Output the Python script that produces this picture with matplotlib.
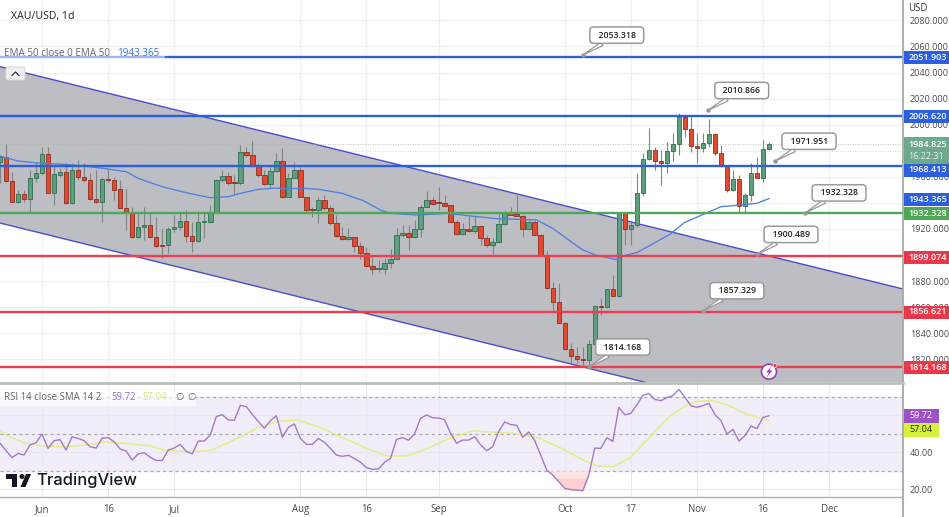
import matplotlib
matplotlib.use("Agg")
import matplotlib.pyplot as plt
from matplotlib.patches import Rectangle, Polygon, Circle, FancyBboxPatch

plt.rcParams['font.family'] = ['Open Sans', 'DejaVu Sans']

# ---------- data ----------
opens = [1971,1975.4,1957,1940.4,1946.5,1942.7,1959.1,1962.6,1977.5,1947.8,1961.6,1963.4,1939.6,1965.5,1960.1,1957.3,1943.2,1940.9,1958,1957.3,
 1950.4,1936,1932.2,1913.6,1921.2,1922.8,1913.6,1907.7,1907.7,1919.7,1921.2,1925.8,1914.9,1910.8,1925.1,1925.6,1932,1957.3,1960.3,1955.5,
 1955.3,1978.7,1977,1969.3,1961.6,1954.5,1964.4,1971.8,1944.8,1959.1,1965.2,1944.3,1934.7,1934.5,
 1942.5,1936.3,1924.8,1914.9,1912.1,1913.6,1907.2,1901.3,1891.9,1889.1,1889.3,1894.2,1897.2,1915.1,1916.7,1913.9,
 1919.7,1937.1,1942.2,1939.7,1939.7,1938.1,1925.6,1915.9,1919.7,1918.5,1922,1913.3,1908,1910.3,1923.6,1933.3,1931.2,1930.2,1919.7,1925.1,
 1915.6,1900,1874.5,1864.3,1848.2,1827.7,1822.6,1820.6,1819.5,1831.8,1860.9,1860.2,1873.7,1868.6,
 1932,1919.8,1923.1,1947.4,1973.7,1980.6,1972.4,1970.9,1980.1,1984.9,2006.2,1996.4,1983.9,1981.9,1985.7,1992.9,1978,1969.1,1949.9,1958.1,1937.9,1945.8,1962.7,1959.4,1981.1]
highs = [1976.7,1985.1,1963.9,1949.9,1949.9,1965.2,1970.3,1983.1,1983.1,1969,1966.5,1970.3,1970.3,1972.9,1970.3,1962.6,1965.2,1958.8,1966,1960.1,
 1957.5,1951,1937.1,1933.3,1937.1,1932,1929.4,1920.5,1921.8,1930.7,1932,1934.5,1925.6,1934,1932,1938.4,1958,1965.2,1963.9,1961.4,
 1984.4,1983,1987.7,1970.3,1965.2,1967.8,1978,1981.8,1962.6,1971.6,1967.8,1944.8,1937,1944.8,
 1946,1938.4,1930.7,1921.8,1920.5,1914.1,1910.3,1906.4,1900,1896.2,1897.5,1904.4,1920.5,1923,1923,1926.9,
 1938.4,1949.1,1944.8,1952.4,1946,1938.4,1926.9,1924.3,1929.9,1929.9,1923,1915.4,1912.8,1932,1934,1937.1,1947.3,1930.7,1926.9,1926.9,
 1916.2,1903.4,1879.6,1878.8,1848.9,1832.3,1829.8,1829.8,1834.9,1861.7,1866.8,1873.7,1884.7,1932,
 1932.2,1925.6,1962.7,1978,1997.2,1983.1,1980.6,1987,1993.4,2009.2,2007.4,2007.4,1993.4,1993.4,2004.1,1993.4,1984.4,1969.1,1965.3,1961.4,1947.4,1970.4,1975.5,1988.3,1987]
lows = [1955,1956.3,1940.4,1939.6,1940.9,1933.3,1956.3,1961.4,1947.3,1938.4,1960.1,1939.1,1939.1,1957.5,1956.3,1942.2,1940.2,1925.6,1956.3,1942.2,
 1935.8,1919.2,1912.8,1912.8,1911.5,1912.8,1906.4,1897.5,1901.3,1917.9,1919.2,1910.3,1902.6,1910.3,1912.8,1924.3,1932,1956.3,1953.7,1946,
 1953.7,1975.4,1967.8,1960.1,1953.7,1951.1,1963.9,1943.5,1944.3,1958.8,1944.3,1932,1929.4,1924.3,
 1934.6,1923,1914.1,1911.6,1911.6,1902.6,1896.7,1891.1,1885.5,1887.3,1885.5,1889.8,1896.7,1914.1,1903.9,1912.8,
 1914.1,1936.6,1938.4,1934.6,1937.1,1924.3,1915.4,1915.4,1917.9,1916.7,1907.7,1906.4,1900.8,1909.5,1923,1930.5,1929.9,1914.1,1919.2,1915.1,
 1899.3,1873.7,1857.9,1847.7,1827.2,1817,1817,1814.4,1813.2,1831,1854,1859.2,1868.1,1868.1,
 1907.7,1907.7,1921.8,1945.3,1972.9,1965.3,1953.8,1962.7,1972.4,1976.8,1990.8,1979.3,1970.4,1979.3,1983.1,1976.8,1967.8,1948.6,1949.2,1932.5,1932.5,1941.7,1958.9,1956.3,1980.6]
closes = [1974.9,1957,1940.4,1946.5,1942.7,1959.1,1962.6,1977.5,1947.8,1961.9,1963.7,1939.6,1965.2,1960.1,1957.3,1943.2,1940.9,1958,1957.3,1950.1,
 1936.3,1932.2,1913.6,1921.2,1922.8,1913.6,1907.2,1907.2,1919.7,1921.2,1925.8,1914.9,1910.8,1925.1,1925.6,1932,1957.3,1960.3,1955.3,1955.3,
 1978.7,1977,1969.3,1961.6,1954.5,1964.4,1971.8,1944.8,1959.1,1965.2,1944.3,1934.5,1934.3,1942.2,
 1936.3,1924.8,1914.9,1912.1,1913.6,1907.2,1901.3,1891.9,1889.1,1889.3,1894.2,1897.2,1915.1,1916.7,1913.9,1919.7,
 1937.1,1942.2,1939.4,1939.6,1937.9,1925.6,1915.9,1919.7,1918.7,1922,1913.3,1908,1910.3,1923.6,1933.3,1931,1930.2,1920,1925.1,1915.6,
 1900,1874.5,1864.3,1848.2,1827.7,1822.6,1820.6,1819.5,1831.8,1860.9,1860.4,1873.7,1868.6,1932,
 1919.8,1923.1,1947.4,1973.7,1980.6,1972.4,1970.9,1980.1,1984.9,2006.2,1996.4,1983.9,1981.9,1985.7,1992.9,1978,1969.1,1949.9,1958.1,1937.9,1945.8,1962.7,1959.4,1981.1,1984.825]

ema_i = [0,3,7,10,14,18,21,23,27,31,35,38,40,43,46,48,50.5,53,57,60.5,63.3,65,69.4,74.5,78.3,82.7,86.5,89.3,92,94.3,97,99.3,102.4,103.9,106,108.3,111.6,113.9,117.2,120,123.3,126,128]
ema_v = [1976,1972.1,1970.3,1969.8,1968.3,1966,1963.9,1958.8,1952.4,1947.8,1944,1944.8,1947.3,1950.4,1951.4,1950.9,1951.2,1950.4,1947.3,1941.7,1934.6,1932,1930.7,1932,1930,1927.9,1927.4,1926.9,1920.5,1912.8,1903.9,1899.8,1896.7,1899.6,1901.9,1907.7,1916.2,1924.9,1931.5,1937.1,1938.4,1939.7,1943.365]

rsi = [44.9,40.9,37.1,39.4,38.5,44,45.2,49.9,42.1,46.3,46.8,41.2,48.4,47.5,46.3,43,42.3,47.7,47.9,45.7,41.8,40.7,35.8,39.1,39.8,37.3,35.6,35.6,41.2,42.3,44.3,40.5,39.1,46.1,46.1,49.4,59.3,60.3,57.5,57.3,65.4,64.7,60.5,56.6,53,57.1,59.8,48.1,53.5,55.3,47.5,44.3,44.3,47.5,45.4,42.1,38.5,37.8,38.4,36.6,34.6,31.7,30.8,31,34.6,36.7,47,47.9,46.6,49.9,58.4,60.2,58.7,58.5,57.6,50.2,44.9,46.6,46.6,48.4,44,
 40.9,43,51.2,56.4,55,54.6,48.1,51,46.3,38.5,30.4,27.7,24.1,20.5,19.8,19.6,19.2,27.7,42.3,42.1,47.9,45.9,64.3,60.3,61,65.6,70.8,71.7,68.6,67.9,69.5,70.6,74,69.7,65.2,64.3,65.2,66.5,60.3,57.1,49.9,52.4,46.1,49,54.2,52.8,58.9,59.72]
sma_i = [0,2.2,4.4,7.2,11.1,14.4,17.8,21.1,25,27.7,31.6,35,37.7,40,42.7,46,49.4,52.7,57.7,61,64.4,67.7,70.5,74.4,78.8,79.9,85.4,89.3,93.8,97.6,99.3,102,104.9,108.2,111.5,114.8,116.5,118.7,121,124.3,128]
sma_v = [51.2,47.5,44.8,43.4,43,44,45.7,44.8,43.4,41,40.3,40.9,44.8,48.4,53,56.6,57.5,54.2,47,42.1,38,38,41.2,47,51.7,51.3,50.3,48.1,41.6,34.9,32.8,32.2,37.1,48.4,59.6,66.5,67.7,67.9,65.6,60.7,57.04]

blue_levels = [2051.903, 2006.620, 1968.413]
green_levels = [1932.328]
red_levels = [1899.074, 1856.621, 1814.168]
ema_last = 1943.365
last_close = 1984.825
countdown = "16:22:31"

channel_upper_i = [0, 150.3]
channel_upper_p = [2044.5, 1874]
channel_lower_i = [0, 150.3]
channel_lower_p = [1924.6, 1753.6]

callout_i = [97, 117.8, 129, 134, 126, 117, 98]
callout_p = [2053.318, 2010.866, 1971.951, 1932.328, 1900.489, 1857.329, 1814.168]

date_pos = [7, 18, 29, 50, 61, 73, 94, 105, 116, 127, 138]
date_lab = ["Jun", "16", "Jul", "Aug", "16", "Sep", "Oct", "17", "Nov", "16", "Dec"]
price_grid = list(range(1820, 2100, 20))
price_hidden = [1980, 1940, 1900]
rsi_ticks = [20, 40]

# ---------- layout ----------
W, H = 949, 517
fig = plt.figure(figsize=(W/100, H/100), dpi=100, facecolor='white')
def frame(x0, y0, x1, y1):
    return [x0/W, 1-y1/H, (x1-x0)/W, (y1-y0)/H]
ax = fig.add_axes(frame(0, 0, 903, 382))
ar = fig.add_axes(frame(0, 382, 903, 497))
XMAX = 903/6.008
GRID = '#eef0f5'
TXT = '#4a4a4a'
FS = 6.45

for a in (ax, ar):
    a.set_xlim(0, XMAX)
    for s in a.spines.values():
        s.set_visible(False)
    a.set_axisbelow(True)
    a.grid(True, color=GRID, lw=0.9)
    a.yaxis.tick_right()
    a.tick_params(axis='both', length=0)

ax.set_ylim(1802.67, 2095.6)
ax.set_yticks(price_grid)
ax.set_yticklabels(["" if p in price_hidden else f"{p:.3f}" for p in price_grid], fontsize=FS, color=TXT)
ax.tick_params(axis='y', pad=5)
ax.set_xticks(date_pos)
ax.tick_params(axis='x', labelbottom=False)

# channel
ax.add_patch(Polygon(list(zip(channel_upper_i, channel_upper_p)) + list(zip(channel_lower_i[::-1], channel_lower_p[::-1])),
                     closed=True, fc='#bdbdc4', ec='none', zorder=1))
ax.plot(channel_upper_i, channel_upper_p, color='#4a4fc8', lw=1.0, zorder=2)
ax.plot(channel_lower_i, channel_lower_p, color='#4a4fc8', lw=1.0, zorder=2)

# last price dotted
ax.axhline(last_close, color='#a8b8a8', lw=0.6, ls=(0, (1, 2)), zorder=2)

# candles
UP, UPE, DN, DNE = '#5f9f80', '#2f6e4f', '#e2492f', '#8c2f20'
for i in range(len(closes)):
    o, h, l, c = opens[i], highs[i], lows[i], closes[i]
    up = c >= o
    ax.vlines(i, l, h, color='#7f8583', lw=0.8, zorder=3)
    bot, ht = min(o, c), max(abs(c-o), 0.9)
    ax.add_patch(Rectangle((i-0.37, bot), 0.74, ht, fc=UP if up else DN, ec=UPE if up else DNE, lw=0.6, zorder=4))

# EMA
ax.plot(ema_i, ema_v, color='#4f7fe0', lw=0.95, zorder=5)

# levels
for v in blue_levels:
    ax.axhline(v, color='#2a5fe0', lw=1.7, zorder=6)
for v in green_levels:
    ax.axhline(v, color='#4ea855', lw=1.7, zorder=6)
for v in red_levels:
    ax.axhline(v, color='#ee3b4e', lw=1.7, zorder=6)

# callouts
for i, v in zip(callout_i, callout_p):
    ax.annotate(f"  {v:.3f}  ", xy=(i, v), xytext=(34, 20), textcoords='offset pixels',
                ha='center', va='center', fontsize=6.3, fontweight='semibold', color='#222222', zorder=9,
                bbox=dict(boxstyle='round,pad=0.42', fc='white', ec='#9a9a9a', lw=1.1),
                arrowprops=dict(arrowstyle='wedge,tail_width=0.45,shrink_factor=0.5', fc='white', ec='#9a9a9a', lw=0.9, shrinkA=0, shrinkB=0))
    ax.plot([i], [v], 'o', ms=2.2, color='#9a9a9a', zorder=9)

# RSI panel
ar.set_ylim(15.84, 78)
ar.axhspan(30, 70, color='#f1edf9', zorder=0)
ar.set_axisbelow(False)
ar.grid(False)
ar.set_xticks(date_pos)
ar.set_xticklabels(date_lab, fontsize=6.9, color=TXT)
ar.tick_params(axis='x', pad=5)
for p in date_pos:
    ar.axvline(p, color='#e8e8ef', lw=0.8, zorder=1)
for v in [20, 40, 60]:
    ar.axhline(v, color='#e8e6f0', lw=0.8, zorder=1)
ar.set_yticks(rsi_ticks)
ar.set_yticklabels([f"{v:.2f}" for v in rsi_ticks], fontsize=FS, color=TXT)
ar.tick_params(axis='y', pad=5)
for v in [30, 50, 70]:
    ar.axhline(v, color='#a9a9b2', lw=0.9, ls=(0, (2.5, 2.5)), zorder=2)
xs = list(range(len(rsi)))
below = [r < 30 for r in rsi]
ar.fill_between(xs, rsi, 30, where=below, interpolate=True, color='#ffe2e2', lw=0, zorder=2)
ar.fill_between(xs, rsi, 26, where=[r < 26 for r in rsi], interpolate=True, color='#ffcfcf', lw=0, zorder=2)
ar.plot(sma_i, sma_v, color='#e3ee86', lw=1.1, zorder=3)
ar.plot(xs, rsi, color='#a678cc', lw=1.0, zorder=4)

# overlay in pixel space
ov = fig.add_axes([0, 0, 1, 1], facecolor='none')
ov.set_xlim(0, W); ov.set_ylim(H, 0); ov.axis('off')
ov.plot([903.5, 903.5], [0, H], color='#a8a8a8', lw=1.3)
ov.plot([0, 903], [382.5, 382.5], color='#bdbdbd', lw=2.0)
ov.plot([0, 903], [497, 497], color='#b0b0b0', lw=1.0)

def tag(y, txt, fc, tc='white', h=13):
    ov.add_patch(Rectangle((904, y-h/2), 45, h, fc=fc, ec='none', zorder=10))
    ov.text(908.5, y, txt, ha='left', va='center', fontsize=FS, color=tc, fontweight='semibold', zorder=11)

tag(57, "2051.903", '#2a5fe0')
tag(116.5, "2006.620", '#2a5fe0')
ov.add_patch(Rectangle((904, 137), 45, 27, fc='#6da98c', ec='none', zorder=10))
ov.text(908.5, 144.5, f"{last_close:.3f}", ha='left', va='center', fontsize=FS, color='white', fontweight='semibold', zorder=11)
ov.text(908.5, 156.5, countdown, ha='left', va='center', fontsize=FS, color='#e7f2ec', zorder=11)
tag(170, "1968.413", '#2a5fe0')
tag(199, "1943.365", '#2a5fe0')
tag(213, "1932.328", '#4ea855')
tag(257, "1899.074", '#e8384a')
tag(312, "1856.621", '#e8384a')
tag(367, "1814.168", '#e8384a')
ov.add_patch(Rectangle((904, 409), 35, 13.5, fc='#9c52c4', ec='none', zorder=10))
ov.text(909, 415.8, "59.72", ha='left', va='center', fontsize=FS, color='white', zorder=11)
ov.add_patch(Rectangle((904, 423), 35, 14, fc='#d6f23a', ec='none', zorder=10))
ov.text(909, 430, "57.04", ha='left', va='center', fontsize=FS, color='#222222', zorder=11)

# header + legends
ov.add_patch(Rectangle((904, 0), 45, 17, fc='white', ec='none', zorder=10))
ov.text(908.5, 8.5, "USD", ha='left', va='center', fontsize=6.9, color='#333333', zorder=11)
ov.text(11, 16.5, "XAU/USD, 1d", ha='left', va='center', fontsize=7.6, color='#222222')
ov.add_patch(Rectangle((0, 47), 165, 14, fc='white', alpha=0.55, ec='none', zorder=7))
ov.text(4, 54, "EMA 50 close 0 EMA 50", ha='left', va='center', fontsize=7.1, color='#666666', zorder=8)
ov.text(117.5, 54, "1943.365", ha='left', va='center', fontsize=7.1, color='#3a6fe0', zorder=8)
ov.add_patch(FancyBboxPatch((6, 67), 19, 13, boxstyle='round,pad=0,rounding_size=2', fc='#f0f0f2', ec='#d8d8dc', lw=0.7, zorder=8))
ov.plot([12, 15.5, 19], [75.5, 72, 75.5], color='#333333', lw=0.9, zorder=9)
ov.add_patch(Rectangle((0, 390), 196, 16, fc='white', alpha=0.7, ec='none', zorder=7))
ov.text(4, 397, "RSI 14 close SMA 14 2", ha='left', va='center', fontsize=6.9, color='#666666', zorder=8)
ov.text(111, 397, "59.72", ha='left', va='center', fontsize=6.9, color='#9c6fd0', zorder=8)
ov.text(142, 397, "57.04", ha='left', va='center', fontsize=6.9, color='#d7e86a', zorder=8)
ov.text(175, 397, "∅", ha='left', va='center', fontsize=6.9, color='#666666', zorder=8)
ov.text(187, 397, "∅", ha='left', va='center', fontsize=6.9, color='#666666', zorder=8)

# TradingView logo
LOGO = '#131722'
ov.add_patch(Rectangle((6.5, 474), 11, 5, fc=LOGO, ec='none', zorder=8))
ov.add_patch(Rectangle((12, 474), 5.5, 13, fc=LOGO, ec='none', zorder=8))
ov.add_patch(Circle((22, 476.5), 2.5, fc=LOGO, ec='none', zorder=8))
ov.add_patch(Polygon([(26, 474), (31, 474), (25.5, 487), (20.5, 487)], closed=True, fc=LOGO, ec='none', zorder=8))
ov.text(36.5, 480, "TradingView", ha='left', va='center', fontsize=11.9, color=LOGO, fontweight='medium', family='Inter', zorder=8)

# alert icon
ov.add_patch(Circle((769, 371.7), 7.5, fc='white', ec='#9c3fb8', lw=1.2, zorder=8))
ov.add_patch(Polygon([(771.5, 366.5), (766, 372.5), (769, 372.5), (766.8, 377), (772.5, 370.5), (769.5, 370.5)], closed=True, fc='#9c3fb8', ec='none', zorder=9))
ov.add_patch(Circle((775, 365.5), 2.0, fc='#ee3b4e', ec='white', lw=0.4, zorder=9))

fig.savefig('out.png', dpi=100, facecolor='white')
